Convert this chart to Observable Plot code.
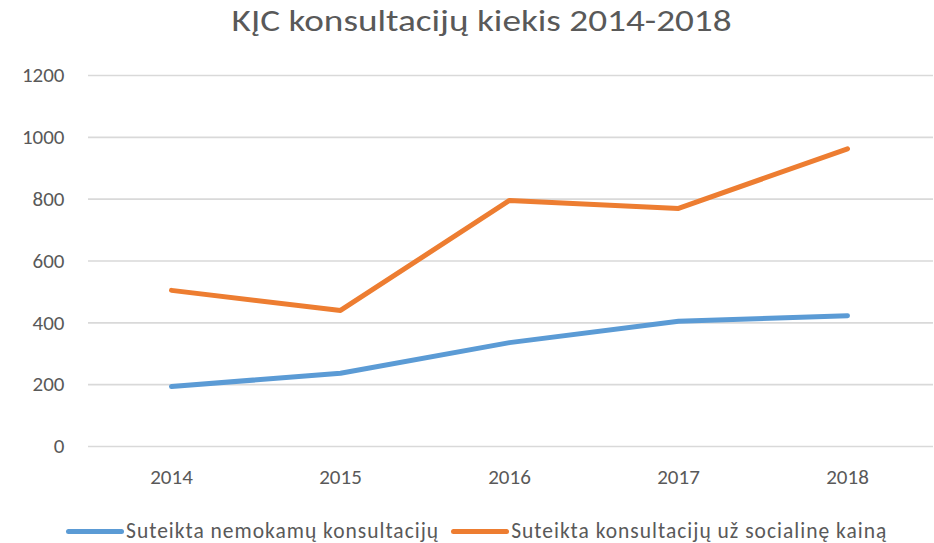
<!DOCTYPE html>
<html>
<head>
<meta charset="utf-8">
<script src="https://cdn.jsdelivr.net/npm/d3@7"></script>
<script src="https://cdn.jsdelivr.net/npm/@observablehq/plot@0.6"></script>
<style>
  body { margin: 0; background: #fff; font-family: Carlito, Lato, "Open Sans", sans-serif; color: #595959; position: relative; width: 934px; height: 543px; overflow: hidden; }
  #title { position: absolute; left: 0; top: 0; width: 934px; height: 50px; line-height: 42px; text-align: center; font-size: 30px; color: #595959; white-space: nowrap; }
  #title span { display: inline-block; transform: scaleX(1.24); transform-origin: center; margin-left: 30px; }
  #chart { position: absolute; left: 0; top: 50px; }
  #legend { position: absolute; left: 66px; top: 517px; height: 28px; display: flex; align-items: center; font-size: 21.5px; letter-spacing: 1px; white-space: nowrap; }
  .item { display: flex; align-items: center; }
  .sw { display: inline-block; width: 58px; height: 5px; border-radius: 3px; margin-right: 2px; }
</style>
</head>
<body>
<div id="title"><span>KĮC konsultacijų kiekis 2014-2018</span></div>
<div id="chart"></div>
<div id="legend"></div>
<script>
const years = ["2014", "2015", "2016", "2017", "2018"];
const seriesNames = ["Suteikta nemokamų konsultacijų", "Suteikta konsultacijų už socialinę kainą"];
const freeValues = [194, 237, 336, 405, 423];
const socialValues = [505, 440, 796, 770, 963];
const yTicks = [0, 200, 400, 600, 800, 1000, 1200];
const colors = ["#5B9BD5", "#ED7D31"];

const data = [
  ...years.map((y, i) => ({year: y, value: freeValues[i], series: seriesNames[0]})),
  ...years.map((y, i) => ({year: y, value: socialValues[i], series: seriesNames[1]}))
];

const chart = Plot.plot({
  width: 934,
  height: 460,
  marginTop: 25,
  marginBottom: 64,
  marginLeft: 85,
  marginRight: 1,
  style: {fontFamily: "Carlito, Lato, 'Open Sans', sans-serif", fontSize: "21px", color: "#595959", background: "transparent"},
  x: {type: "point", domain: years, padding: 0.5, label: null},
  y: {domain: [0, 1200], label: null},
  color: {domain: seriesNames, range: colors},
  marks: [
    Plot.ruleY(yTicks, {stroke: "#d9d9d9", strokeWidth: 1.6, insetLeft: 3}),
    Plot.axisY(yTicks, {tickSize: 0, tickPadding: 21, fontSize: 21, fill: "#595959", tickFormat: d => String(d)}),
    Plot.axisX({tickSize: 0, tickPadding: 23, fontSize: 21, fill: "#595959"}),
    Plot.line(data, {x: "year", y: "value", z: "series", stroke: "series", strokeWidth: 5, strokeLinecap: "round", strokeLinejoin: "round"})
  ]
});
document.getElementById("chart").appendChild(chart);

const legend = document.getElementById("legend");
seriesNames.forEach((name, i) => {
  const item = document.createElement("div");
  item.className = "item";
  if (i > 0) item.style.marginLeft = "12px";
  const sw = document.createElement("span");
  sw.className = "sw";
  sw.style.background = colors[i];
  const t = document.createElement("span");
  t.textContent = name;
  item.appendChild(sw);
  item.appendChild(t);
  legend.appendChild(item);
});
</script>
</body>
</html>
